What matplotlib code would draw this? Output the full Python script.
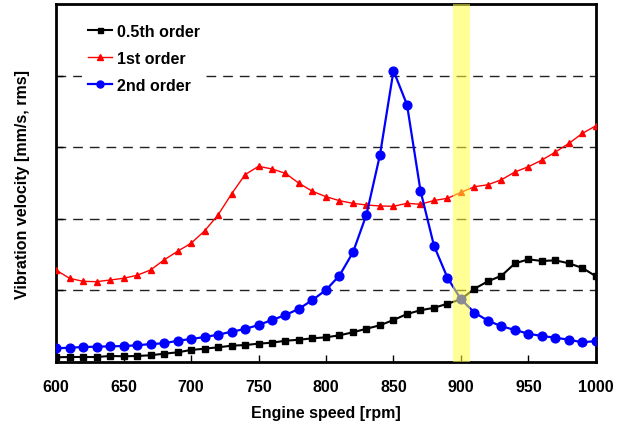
import numpy as np
import matplotlib
matplotlib.use("Agg")
import matplotlib.pyplot as plt

plt.rcParams['font.family'] = ['Liberation Sans', 'DejaVu Sans']
plt.rcParams['font.weight'] = 'bold'

# engine speed, rpm
rpm = np.arange(600, 1001, 10)

order_05 = [0.066, 0.070, 0.070, 0.070, 0.084, 0.080, 0.084, 0.094, 0.116, 0.135,
            0.168, 0.186, 0.205, 0.228, 0.237, 0.256, 0.270, 0.297, 0.311, 0.331,
            0.345, 0.373, 0.415, 0.465, 0.513, 0.587, 0.670, 0.723, 0.757, 0.814,
            0.876, 1.024, 1.127, 1.205, 1.378, 1.434, 1.411, 1.420, 1.378, 1.313,
            1.197]

order_1 = [1.285, 1.169, 1.127, 1.122, 1.145, 1.169, 1.211, 1.285, 1.425, 1.546,
           1.658, 1.830, 2.053, 2.346, 2.616, 2.733, 2.696, 2.635, 2.496, 2.384,
           2.309, 2.253, 2.216, 2.193, 2.179, 2.175, 2.216, 2.203, 2.256, 2.286,
           2.370, 2.448, 2.476, 2.546, 2.654, 2.728, 2.821, 2.933, 3.054, 3.194,
           3.300]

order_2 = [0.191, 0.200, 0.209, 0.214, 0.219, 0.223, 0.233, 0.251, 0.261, 0.297,
           0.321, 0.349, 0.381, 0.423, 0.461, 0.517, 0.587, 0.656, 0.744, 0.866,
           1.006, 1.208, 1.532, 2.060, 2.894, 4.068, 3.594, 2.392, 1.624, 1.176,
           0.876, 0.689, 0.577, 0.499, 0.447, 0.395, 0.363, 0.339, 0.311, 0.275,
           0.293]

band = (894, 907)

fig = plt.figure(figsize=(6.28, 4.35), dpi=100)
ax = fig.add_axes([0.0892, 0.1655, 0.8598, 0.823])

for yv in [1, 2, 3, 4]:
    ax.axhline(yv, color='#222222', lw=1.0, ls=(0, (7, 5)), zorder=1)

ax.plot(rpm, order_05, color='black', lw=1.5, marker='s', ms=4.5,
        label='0.5th order', zorder=3)
ax.plot(rpm, order_1, color='red', lw=1.0, marker='^', ms=5,
        label='1st order', zorder=3)
ax.plot(rpm, order_2, color='blue', lw=1.6, marker='o', ms=6.3,
        label='2nd order', zorder=3)

ax.axvspan(band[0], band[1], color='#ffff40', alpha=0.55, lw=0, zorder=5)

ax.set_xlim(600, 1000)
ax.set_ylim(0, 5)
ax.set_xticks(np.arange(600, 1001, 50))
ax.set_yticks([1, 2, 3, 4])
ax.set_yticklabels([])
ax.tick_params(axis='both', direction='in', length=5, width=1, color='black')
ax.tick_params(axis='x', labelsize=11.5, pad=12)
for lab in ax.get_xticklabels():
    lab.set_fontweight('bold')

for sp in ax.spines.values():
    sp.set_linewidth(2)
    sp.set_color('black')

ax.set_xlabel('Engine speed [rpm]', fontsize=11.5, fontweight='bold', labelpad=8)
ax.set_ylabel('Vibration velocity [mm/s, rms]', fontsize=11.5, fontweight='bold',
              labelpad=15)

leg = ax.legend(loc='upper left', bbox_to_anchor=(0.033, 0.985), frameon=True,
                fancybox=False, edgecolor='none', facecolor='white', framealpha=1,
                prop={'size': 11.5, 'weight': 'bold'}, handlelength=1.5,
                handletextpad=0.3, labelspacing=0.75, markerscale=0.8)
leg.set_zorder(6)

fig.savefig('out.png', dpi=100)
